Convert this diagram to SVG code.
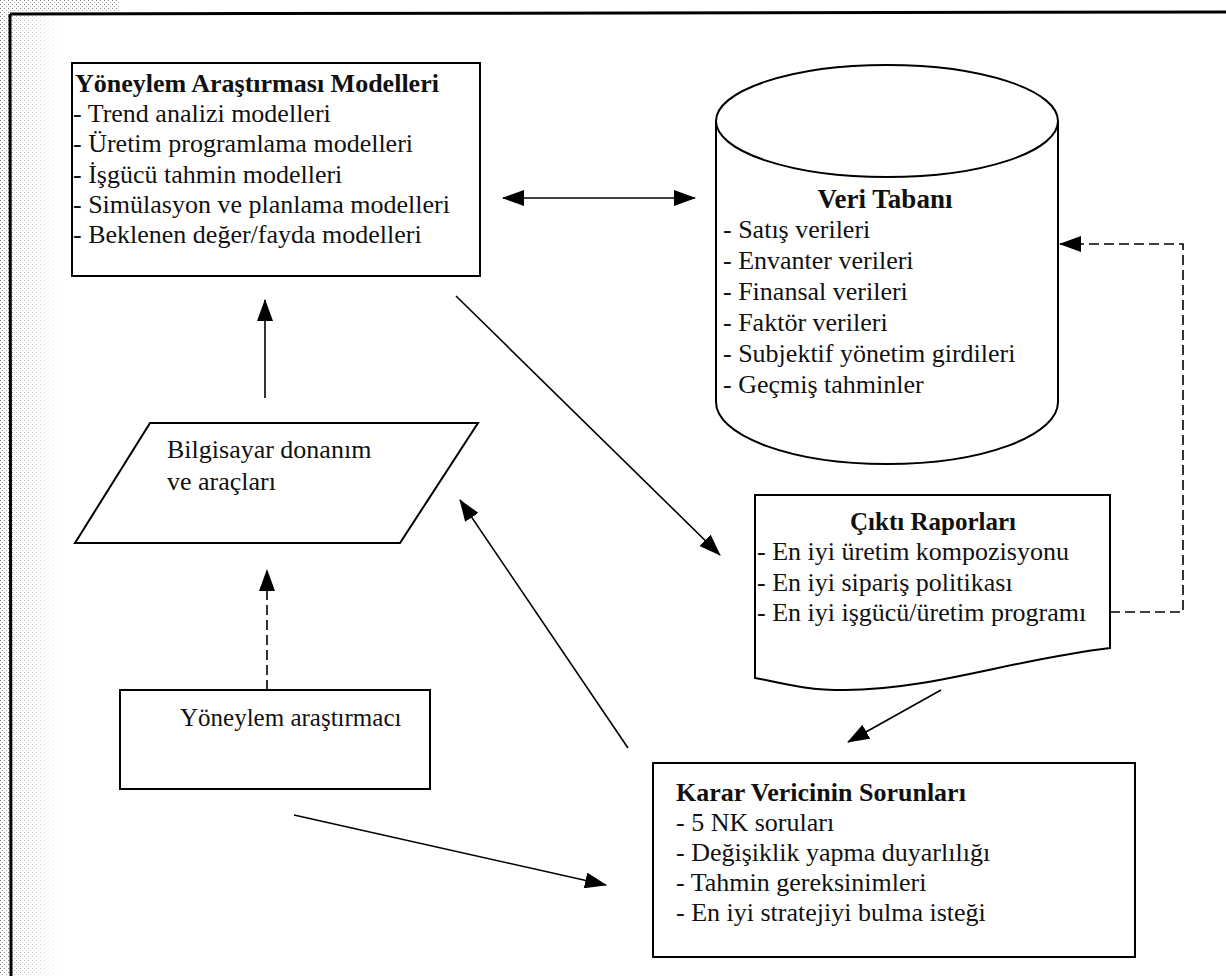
<svg xmlns="http://www.w3.org/2000/svg" width="1226" height="976" viewBox="0 0 1226 976">
<defs>
<pattern id="dots" width="4" height="4" patternUnits="userSpaceOnUse"><rect width="4" height="4" fill="#fff"/><rect x="0" y="0" width="1" height="1" fill="#888"/><rect x="2" y="2" width="1" height="1" fill="#aaa"/></pattern>
<linearGradient id="fade" x1="0" x2="1" y1="0" y2="0"><stop offset="0" stop-color="#fff" stop-opacity="0.2"/><stop offset="1" stop-color="#fff" stop-opacity="1"/></linearGradient>
<marker id="ah" viewBox="0 0 22 16" refX="21" refY="8" markerWidth="22" markerHeight="16" orient="auto-start-reverse" markerUnits="userSpaceOnUse"><path d="M0,0 L22,8 L0,16 z" fill="#000"/></marker>
</defs>
<style>
text{font-family:"Liberation Serif","Times New Roman",serif;font-size:26px;fill:#111}
.b{font-weight:bold}
.shape{fill:#fff;stroke:#000;stroke-width:2}
.c{fill:none;stroke:#000;stroke-width:1.6}
.d{fill:none;stroke:#000;stroke-width:1.6;stroke-dasharray:10 5}
</style>
<rect width="1226" height="976" fill="#fff"/>
<rect x="0" y="0" width="9" height="976" fill="url(#dots)"/>
<rect x="12" y="15" width="50" height="961" fill="url(#dots)"/>
<rect x="12" y="15" width="50" height="961" fill="url(#fade)"/>
<rect x="0" y="0" width="120" height="12" fill="url(#dots)"/>
<path d="M10,14 L1226,12 M10,14 L11,976" fill="none" stroke="#000" stroke-width="3"/>

<g id="connectors">
<line class="c" x1="503" y1="198" x2="695" y2="198" marker-start="url(#ah)" marker-end="url(#ah)"/>
<line class="c" x1="265" y1="398" x2="265" y2="300" marker-end="url(#ah)"/>
<line class="d" x1="267" y1="690" x2="267" y2="570" marker-end="url(#ah)"/>
<line class="c" x1="456" y1="296" x2="720" y2="555" marker-end="url(#ah)"/>
<line class="c" x1="941" y1="690" x2="848" y2="742" marker-end="url(#ah)"/>
<line class="c" x1="628" y1="748" x2="460" y2="500" marker-end="url(#ah)"/>
<line class="c" x1="294" y1="815" x2="606" y2="885" marker-end="url(#ah)"/>
<polyline class="d" points="1110,612 1183,612 1183,244 1060,244" marker-end="url(#ah)"/>
</g>

<g id="or-models">
<rect class="shape" x="72" y="63" width="408" height="213"/>
<text class="b" x="75" y="92">Yöneylem Araştırması Modelleri</text>
<text x="73" y="122">- Trend analizi modelleri</text>
<text x="73" y="152">- Üretim programlama modelleri</text>
<text x="73" y="183">- İşgücü tahmin modelleri</text>
<text x="73" y="213">- Simülasyon ve planlama modelleri</text>
<text x="73" y="243">- Beklenen değer/fayda modelleri</text>
</g>

<g id="database">
<path class="shape" d="M716,121 L716,402 A171,62 0 0 0 1058,402 L1058,121"/>
<ellipse class="shape" cx="887" cy="121" rx="171" ry="56"/>
<text class="b" x="885" y="208" text-anchor="middle" style="font-size:27px">Veri Tabanı</text>
<text x="723" y="238">- Satış verileri</text>
<text x="723" y="269">- Envanter verileri</text>
<text x="723" y="300">- Finansal verileri</text>
<text x="723" y="331">- Faktör verileri</text>
<text x="723" y="362">- Subjektif yönetim girdileri</text>
<text x="723" y="393">- Geçmiş tahminler</text>
</g>

<g id="hardware">
<polygon class="shape" points="150,423 478,423 400,543 75,543"/>
<text x="167" y="458">Bilgisayar donanım</text>
<text x="167" y="490">ve araçları</text>
</g>

<g id="reports">
<path class="shape" d="M755,495 L1110,495 L1110,648 C1010,660 930,690 845,690 C800,690 780,682 755,678 Z"/>
<text class="b" x="933" y="530" text-anchor="middle" style="font-size:25px">Çıktı Raporları</text>
<text x="757" y="560">- En iyi üretim kompozisyonu</text>
<text x="757" y="591">- En iyi sipariş politikası</text>
<text x="757" y="621">- En iyi işgücü/üretim programı</text>
</g>

<g id="researcher">
<rect class="shape" x="120" y="690" width="310" height="99"/>
<text x="180" y="726" style="font-size:25px">Yöneylem araştırmacı</text>
</g>

<g id="decision-maker">
<rect class="shape" x="653" y="763" width="482" height="194"/>
<text class="b" x="676" y="801">Karar Vericinin Sorunları</text>
<text x="676" y="831">- 5 NK soruları</text>
<text x="676" y="861">- Değişiklik yapma duyarlılığı</text>
<text x="676" y="891">- Tahmin gereksinimleri</text>
<text x="676" y="921">- En iyi stratejiyi bulma isteği</text>
</g>
</svg>
